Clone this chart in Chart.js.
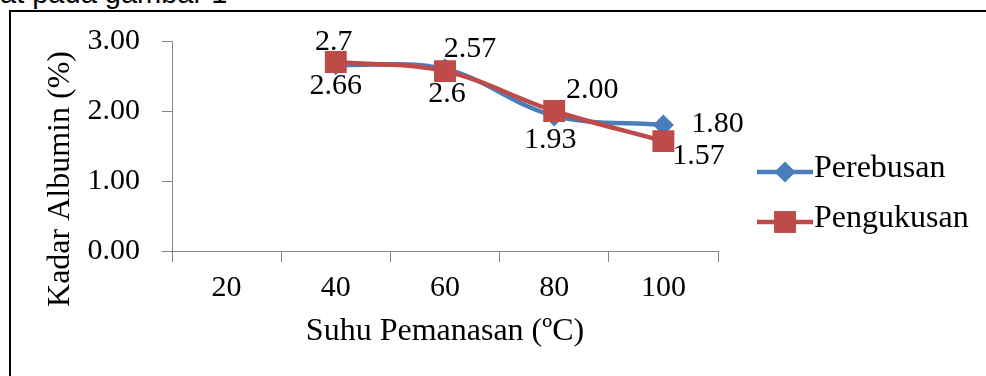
<!DOCTYPE html>
<html>
<head>
<meta charset="utf-8">
<script src="https://cdn.jsdelivr.net/npm/chart.js@4"></script>
<style>
  html, body { margin: 0; padding: 0; background: #fff; }
  body { width: 986px; height: 376px; overflow: hidden; position: relative; }
  #cap { position: absolute; left: 0; top: -23px; font: 29px "Liberation Sans", Arial, sans-serif; color: #000; white-space: nowrap; }
  #frame { position: absolute; left: 9px; top: 10px; width: 1200px; height: 600px; border-left: 2px solid #000; border-top: 2px solid #000; }
  #chart { position: absolute; left: 0; top: 0; }
</style>
</head>
<body>
<div id="cap">at pada gambar 1</div>
<div id="frame"></div>
<canvas id="chart" width="986" height="376"></canvas>
<script>
(function() {

  const suhu = ['20', '40', '60', '80', '100'];
  const perebusan = [null, 2.66, 2.6, 1.93, 1.80];
  const pengukusan = [null, 2.7, 2.57, 2.00, 1.57];
  const perebusanText = ['', '2.66', '2.6', '1.93', '1.80'];
  const pengukusanText = ['', '2.7', '2.57', '2.00', '1.57'];
  const seriesNames = ['Perebusan', 'Pengukusan'];
  const yTitle = 'Kadar Albumin (%)';
  const xTitle = 'Suhu Pemanasan (\u00baC)';

  const serif = '"Liberation Serif", "Times New Roman", serif';
  const blue = '#4A7EBB';
  const red = '#BE4B48';
  const axisGrey = '#868686';

  // where each value label sits relative to its point (dx, dy)
  const labelShift = [
    [null, [0, 21], [2, 25], [-4, 24], [54, -1]],
    [null, [-2, -20], [25, -22], [38, -21], [35, 15]]
  ];
  const labelText = [perebusanText, pengukusanText];

  const valueLabels = {
    id: 'valueLabels',
    afterDatasetsDraw(chart) {
      const ctx = chart.ctx;
      ctx.save();
      ctx.font = '30px ' + serif;
      ctx.fillStyle = '#000';
      ctx.textAlign = 'center';
      ctx.textBaseline = 'middle';
      chart.data.datasets.forEach((ds, i) => {
        chart.getDatasetMeta(i).data.forEach((pt, j) => {
          if (ds.data[j] == null) return;
          const s = labelShift[i][j];
          ctx.fillText(labelText[i][j], pt.x + s[0], pt.y + s[1]);
        });
      });
      ctx.restore();
    }
  };

  const sideBits = {
    id: 'sideBits',
    afterDraw(chart) {
      const ctx = chart.ctx;
      ctx.save();
      // y axis title
      ctx.font = '32px ' + serif;
      ctx.fillStyle = '#000';
      ctx.textAlign = 'center';
      ctx.textBaseline = 'middle';
      ctx.translate(61, 179);
      ctx.rotate(-Math.PI / 2);
      ctx.fillText(yTitle, 0, 0);
      ctx.restore();

      // legend: line with marker, then name
      chart.data.datasets.forEach((ds, i) => {
        const y = 172 + i * 50;
        ctx.save();
        ctx.strokeStyle = ds.borderColor;
        ctx.lineWidth = 4.5;
        ctx.beginPath();
        ctx.moveTo(757, y);
        ctx.lineTo(813, y);
        ctx.stroke();
        ctx.fillStyle = ds.pointBackgroundColor;
        Chart.helpers.drawPoint(ctx, {
          pointStyle: ds.pointStyle, radius: ds.pointRadius, rotation: 0, borderWidth: 0
        }, 785, y);
        ctx.fillStyle = '#000';
        ctx.font = '32px ' + serif;
        ctx.textAlign = 'left';
        ctx.textBaseline = 'middle';
        ctx.fillText(ds.label, 814, y - 3);
        ctx.restore();
      });
    }
  };

  new Chart(document.getElementById('chart'), {
    type: 'line',
    data: {
      labels: suhu,
      datasets: [{
        label: seriesNames[0],
        data: perebusan,
        borderColor: blue,
        backgroundColor: blue,
        pointBackgroundColor: blue,
        pointStyle: 'rectRot',
        pointRadius: 10.5,
        pointBorderWidth: 0,
        borderWidth: 4.5,
        tension: 0.35,
        order: 1
      }, {
        label: seriesNames[1],
        data: pengukusan,
        borderColor: red,
        backgroundColor: red,
        pointBackgroundColor: red,
        pointStyle: 'rect',
        pointRadius: 15.5,
        pointBorderWidth: 0,
        borderWidth: 4.5,
        tension: 0.35,
        order: 0
      }]
    },
    options: {
      responsive: false,
      animation: false,
      layout: { padding: { top: 41, left: 0, right: 268, bottom: 0 } },
      plugins: {
        legend: { display: false },
        tooltip: { enabled: false }
      },
      scales: {
        x: {
          type: 'category',
          offset: true,
          grid: { offset: true, drawOnChartArea: false, tickLength: 11, color: axisGrey },
          border: { color: axisGrey, width: 1 },
          ticks: { color: '#000', padding: 8, font: { family: serif, size: 30 }, maxRotation: 0 },
          title: {
            display: true, text: xTitle, color: '#000',
            font: { family: serif, size: 32 }, padding: { top: 0, bottom: 25 }
          },
          afterFit(scale) { scale.height = 125; }
        },
        y: {
          min: 0,
          max: 3,
          grid: { drawOnChartArea: false, tickLength: 10, color: axisGrey },
          border: { color: axisGrey, width: 1 },
          ticks: {
            stepSize: 1, color: '#000', padding: 22,
            font: { family: serif, size: 30 },
            callback: (v) => Number(v).toFixed(2)
          },
          afterFit(scale) { scale.width = 172; }
        }
      }
    },
    plugins: [valueLabels, sideBits]
  });

})();
</script>
</body>
</html>
